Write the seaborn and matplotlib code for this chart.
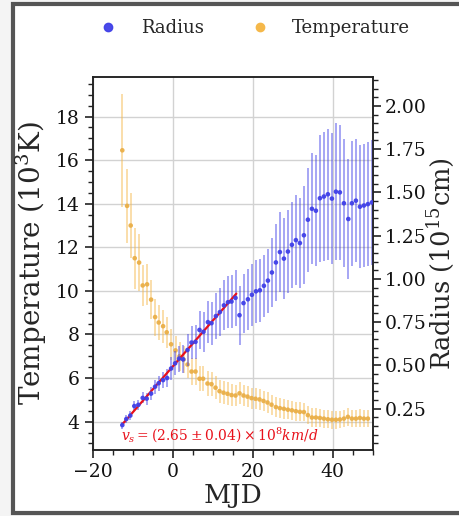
import numpy as np
import pandas as pd
import matplotlib
matplotlib.use("Agg")
import matplotlib.pyplot as plt
from matplotlib.lines import Line2D
from matplotlib.patches import Rectangle
from matplotlib.ticker import MultipleLocator, FormatStrFormatter
import seaborn as sns

# ---------------- data ----------------
temp_mjd = [-12.6, -11.4, -10.5, -9.5, -8.4, -7.5, -6.4, -5.4, -4.4, -3.5, -2.4, -1.5, -0.4,
            0.7, 1.7, 2.7, 3.7, 4.7, 5.7, 6.7, 7.6, 8.7, 9.7, 10.7, 11.7, 12.7, 13.7, 14.7,
            15.7, 16.7, 17.7, 18.7, 19.7, 20.7, 21.7, 22.7, 23.7, 24.7, 25.8, 26.8, 27.8,
            28.8, 29.8, 30.8, 31.8, 32.8, 33.8, 34.8, 35.8, 36.8, 37.8, 38.8, 39.8, 40.8,
            41.8, 42.8, 43.8, 44.8, 45.8, 46.8, 47.8, 48.8]
temp_val = [16.45, 13.9, 13.0, 11.5, 11.3, 10.25, 10.3, 9.6, 8.8, 8.55, 8.38, 8.1, 7.55,
            7.27, 7.0, 6.85, 6.62, 6.3, 6.3, 5.97, 5.97, 5.75, 5.72, 5.56, 5.4, 5.33, 5.28, 5.22,
            5.2, 5.3, 5.2, 5.15, 5.08, 5.05, 5.02, 4.95, 4.88, 4.78, 4.67, 4.62, 4.59,
            4.55, 4.52, 4.48, 4.45, 4.44, 4.3, 4.19, 4.19, 4.17, 4.14, 4.11, 4.09, 4.09,
            4.1, 4.14, 4.22, 4.14, 4.14, 4.17, 4.14, 4.14]
temp_err = [2.6, 1.7, 1.5, 1.4, 1.3, 0.95, 0.95, 0.9, 0.85, 0.8, 0.75, 0.72, 0.7,
            0.68, 0.66, 0.64, 0.62, 0.6, 0.6, 0.58, 0.57, 0.56, 0.55, 0.54, 0.53, 0.52, 0.52, 0.51,
            0.5, 0.5, 0.5, 0.49, 0.48, 0.48, 0.47, 0.47, 0.46, 0.46, 0.45, 0.45, 0.45,
            0.44, 0.44, 0.44, 0.43, 0.43, 0.43, 0.42, 0.42, 0.42, 0.41, 0.41, 0.41, 0.41,
            0.4, 0.4, 0.4, 0.4, 0.4, 0.4, 0.4, 0.4]

rad_mjd = [-12.6, -11.6, -10.6, -9.6, -8.6, -7.5, -6.5, -5.4, -4.4, -3.5, -2.4, -1.4, -0.4,
           0.6, 1.6, 2.6, 3.7, 4.7, 5.7, 6.7, 7.7, 8.8, 9.7, 10.8, 11.8, 12.8, 13.8, 14.7,
           15.7, 16.7, 17.7, 18.8, 19.8, 20.8, 21.8, 22.8, 23.8, 24.8, 25.8, 26.8, 27.8,
           28.8, 29.8, 30.8, 31.8, 32.8, 33.8, 34.8, 35.8, 36.8, 37.8, 38.8, 39.8, 40.8,
           41.8, 42.8, 43.9, 44.8, 45.8, 46.8, 47.8, 48.8, 49.8]
rad_val = [0.155, 0.19, 0.21, 0.265, 0.272, 0.312, 0.308, 0.337, 0.377, 0.397, 0.415, 0.427, 0.482,
           0.512, 0.539, 0.535, 0.589, 0.632, 0.636, 0.705, 0.694, 0.75, 0.744, 0.785, 0.808, 0.847,
           0.865, 0.869, 0.89, 0.79, 0.86, 0.882, 0.908, 0.928, 0.934, 0.96, 0.99, 1.037, 1.095,
           1.155, 1.117, 1.158, 1.197, 1.224, 1.207, 1.252, 1.342, 1.405, 1.394, 1.466, 1.476,
           1.489, 1.464, 1.504, 1.5, 1.437, 1.346, 1.437, 1.452, 1.417, 1.424, 1.432, 1.442]
rad_err = [0.02, 0.022, 0.025, 0.027, 0.03, 0.032, 0.035, 0.037, 0.04, 0.043, 0.047, 0.05, 0.065,
           0.07, 0.075, 0.08, 0.09, 0.095, 0.1, 0.11, 0.115, 0.12, 0.125, 0.135, 0.14, 0.145,
           0.15, 0.155, 0.16, 0.17, 0.17, 0.175, 0.18, 0.183, 0.183, 0.18, 0.185, 0.197, 0.22,
           0.233, 0.233, 0.24, 0.249, 0.26, 0.26, 0.283, 0.3, 0.32, 0.32, 0.366, 0.37,
           0.378, 0.38, 0.395, 0.39, 0.37, 0.345, 0.36, 0.356, 0.355, 0.356, 0.358, 0.36]

fit_end = 15.9
fit_label = r"$v_s = (2.65 \pm 0.04) \times 10^8 km/d$"

temp_df = pd.DataFrame({"MJD": temp_mjd, "T": temp_val, "err": temp_err})
rad_df = pd.DataFrame({"MJD": rad_mjd, "R": rad_val, "err": rad_err})

# ---------------- style ----------------
sns.set_style("white")
plt.rcParams["font.family"] = ["DejaVu Serif"]
plt.rcParams["mathtext.fontset"] = "dejavuserif"

blue = "#4040e8"
orange = "#f5b84a"
red = "#e8101a"

fig = plt.figure(figsize=(4.59, 5.16), dpi=100, facecolor="#f4f4f4")
fig.patches.append(Rectangle((13 / 459, 3 / 516), 1.2, (512 - 3) / 516,
                             transform=fig.transFigure, facecolor="white",
                             edgecolor="#555555", lw=3, zorder=-10))
ax = fig.add_axes([92.7 / 459, 1 - 450 / 516, 280 / 459, (450 - 77.3) / 516])
ax.set_facecolor("none")
ax2 = ax.twinx()

# temperature
ax.errorbar(temp_df["MJD"], temp_df["T"], yerr=temp_df["err"], fmt="none",
            ecolor=orange, elinewidth=1.3, alpha=0.5, capsize=0, zorder=2)
sns.scatterplot(data=temp_df, x="MJD", y="T", ax=ax, color="#eaaf48", s=11,
                edgecolor="none", alpha=0.95, zorder=3, legend=False)

# radius
ax2.errorbar(rad_df["MJD"], rad_df["R"], yerr=rad_df["err"], fmt="none",
             ecolor=blue, elinewidth=1.3, alpha=0.5, capsize=0, zorder=2)
fit_df = rad_df[rad_df["MJD"] <= fit_end]
coef = np.polyfit(fit_df["MJD"], fit_df["R"], 1)
xf = np.array([fit_df["MJD"].min(), fit_end])
ax2.plot(xf, np.polyval(coef, xf), color=red, lw=1.6, zorder=3)
sns.scatterplot(data=rad_df, x="MJD", y="R", ax=ax2, color=blue, s=11,
                edgecolor="none", alpha=0.95, zorder=4, legend=False)

ax.text(-13.0, 3.35, fit_label, color=red, fontsize=10, va="center", ha="left")

# axes
ax.set_xlim(-20, 50)
ax.set_ylim(2.7, 19.8)
ax2.set_ylim(0.011, 2.165)
ax.xaxis.set_major_locator(MultipleLocator(20))
ax.xaxis.set_minor_locator(MultipleLocator(5))
ax.yaxis.set_major_locator(MultipleLocator(2))
ax.yaxis.set_minor_locator(MultipleLocator(0.5))
ax2.yaxis.set_major_locator(MultipleLocator(0.25))
ax2.yaxis.set_minor_locator(MultipleLocator(0.05))
ax2.yaxis.set_major_formatter(FormatStrFormatter("%.2f"))

for a in (ax, ax2):
    a.tick_params(which="major", length=6, width=1.2, labelsize=13.5, color="#222222",
                  labelcolor="#111111")
    a.tick_params(which="minor", length=3.5, width=1.0, color="#222222")
    for s in a.spines.values():
        s.set_color("#222222")
        s.set_linewidth(1.1)
ax.tick_params(axis="x", which="both", bottom=True)
ax.tick_params(axis="y", which="both", left=True)
ax2.tick_params(axis="y", which="both", right=True, pad=2.5)

ax.grid(True, which="major", color="#d2d2d2", lw=1.0)
ax.set_axisbelow(True)

ax.set_xlabel("MJD", fontsize=19, labelpad=1)
ax.set_ylabel(r"Temperature (10$^3$K)", fontsize=20, labelpad=5)
ax2.set_ylabel(r"Radius (10$^{15}$cm)", fontsize=18.5, labelpad=-1)

handles = [Line2D([], [], marker="o", ls="none", color=blue, alpha=0.95, markersize=6,
                  label="Radius"),
           Line2D([], [], marker="o", ls="none", color=orange, markersize=6,
                  label="Temperature")]
fig.legend(handles=handles, loc="center", bbox_to_anchor=(0.555, 0.946), ncol=2,
           frameon=False, fontsize=13, handlelength=1.0, handletextpad=1.3,
           columnspacing=2.6)

fig.savefig("out.png", dpi=100, facecolor=fig.get_facecolor())
